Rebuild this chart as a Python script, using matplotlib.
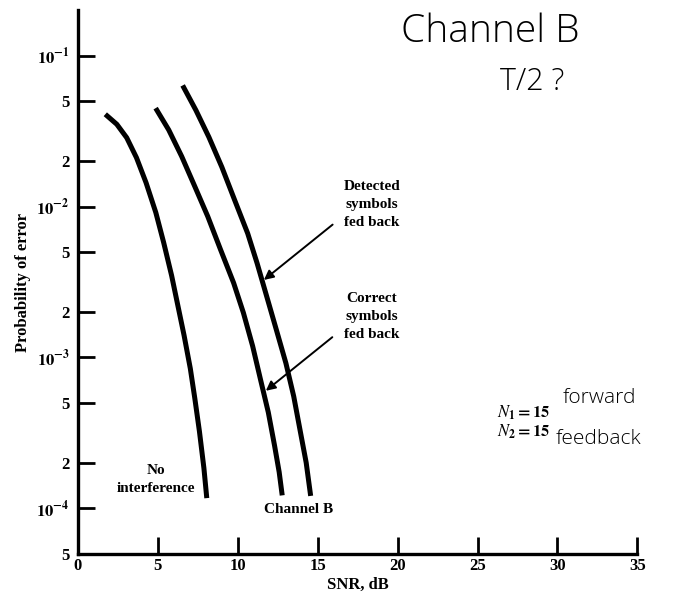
import matplotlib
matplotlib.use("Agg")
import matplotlib.pyplot as plt

plt.rcParams["font.family"] = "Liberation Serif"
plt.rcParams["mathtext.fontset"] = "stix"

# curves (SNR in dB, probability of error)
snr_none = [1.71, 2.43, 3.05, 3.66, 4.26, 4.87, 5.36, 5.86, 6.25, 6.64, 7.03, 7.31, 7.60, 7.88, 8.06]
pe_none = [4.09e-2, 3.51e-2, 2.86e-2, 2.11e-2, 1.44e-2, 9.14e-3, 5.79e-3, 3.49e-3,
           2.21e-3, 1.40e-3, 8.45e-4, 5.37e-4, 3.24e-4, 1.85e-4, 1.17e-4]

snr_correct = [4.86, 5.68, 6.49, 7.31, 8.12, 8.92, 9.74, 10.35, 10.93, 11.42, 11.91, 12.30, 12.59, 12.78]
pe_correct = [4.49e-2, 3.22e-2, 2.15e-2, 1.36e-2, 8.61e-3, 5.19e-3, 3.12e-3, 1.98e-3,
              1.19e-3, 7.16e-4, 4.33e-4, 2.61e-4, 1.74e-4, 1.22e-4]

snr_detected = [6.55, 7.38, 8.19, 9.00, 9.81, 10.62, 11.21, 11.81, 12.41, 13.01, 13.50, 13.89, 14.28, 14.56]
pe_detected = [6.35e-2, 4.35e-2, 2.89e-2, 1.83e-2, 1.10e-2, 6.64e-3, 4.21e-3, 2.54e-3,
               1.53e-3, 9.18e-4, 5.53e-4, 3.33e-4, 2.01e-4, 1.21e-4]

x_ticks = [0, 5, 10, 15, 20, 25, 30, 35]
y_ticks = [5e-5, 1e-4, 2e-4, 5e-4, 1e-3, 2e-3, 5e-3, 1e-2, 2e-2, 5e-2, 1e-1]
y_labels = ["5", r"$\mathbf{10^{-4}}$", "2", "5", r"$\mathbf{10^{-3}}$", "2", "5",
            r"$\mathbf{10^{-2}}$", "2", "5", r"$\mathbf{10^{-1}}$"]

fig = plt.figure(figsize=(6.78, 6.02), dpi=100)
ax = fig.add_axes([0.115, 0.080, 0.825, 0.903])

for xs, ys in [(snr_none, pe_none), (snr_correct, pe_correct), (snr_detected, pe_detected)]:
    ax.plot(xs, ys, color="black", lw=3.6, solid_capstyle="butt", solid_joinstyle="round")

ax.set_yscale("log")
ax.set_xlim(0, 35)
ax.set_ylim(5e-5, 0.2)
ax.minorticks_off()
ax.set_xticks(x_ticks)
ax.set_xticklabels([str(v) for v in x_ticks])
ax.set_yticks(y_ticks)
ax.set_yticklabels(y_labels)
ax.tick_params(axis="y", direction="in", length=12, width=2, labelsize=12, pad=6)
ax.tick_params(axis="x", direction="in", length=12, width=2, labelsize=12, pad=3)
for lab in ax.get_xticklabels() + ax.get_yticklabels():
    lab.set_fontweight("bold")

for side in ["top", "right"]:
    ax.spines[side].set_visible(False)
for side in ["left", "bottom"]:
    ax.spines[side].set_linewidth(2.4)

ax.set_xlabel("SNR, dB", fontsize=12, fontweight="bold", labelpad=2)
ax.set_ylabel("Probability of error", fontsize=12, fontweight="bold", labelpad=4)

label_kw = dict(fontsize=11, fontweight="bold", ha="center", va="center", linespacing=1.5)
ax.text(18.4, 1.03e-2, "Detected\nsymbols\nfed back", **label_kw)
ax.text(18.4, 1.86e-3, "Correct\nsymbols\nfed back", **label_kw)
ax.text(4.85, 1.55e-4, "No\ninterference", **label_kw)
ax.text(13.8, 9.8e-5, "Channel B", **label_kw)

arrow_kw = dict(arrowstyle="-|>", color="black", lw=1.4, mutation_scale=14)
ax.annotate("", xy=(11.5, 3.18e-3), xytext=(16.07, 7.8e-3), arrowprops=arrow_kw)
ax.annotate("", xy=(11.62, 5.86e-4), xytext=(16.05, 1.40e-3), arrowprops=arrow_kw)

ax.text(27.9, 4.3e-4, r"$\mathbf{\mathit{N}_1 = 15}$", fontsize=12, ha="center", va="center")
ax.text(27.9, 3.2e-4, r"$\mathbf{\mathit{N}_2 = 15}$", fontsize=12, ha="center", va="center")

# handwritten notes on the scan
hand = dict(family="Open Sans", fontweight="light", color="black", ha="center", va="center")
ax.text(32.6, 5.4e-4, "forward", fontsize=15, **hand)
ax.text(32.6, 2.9e-4, "feedback", fontsize=15, **hand)
fig.text(0.723, 0.947, "Channel B", fontsize=28, **hand)
fig.text(0.785, 0.864, "T/2 ?", fontsize=22, **hand)

fig.savefig("out.png", dpi=100)
